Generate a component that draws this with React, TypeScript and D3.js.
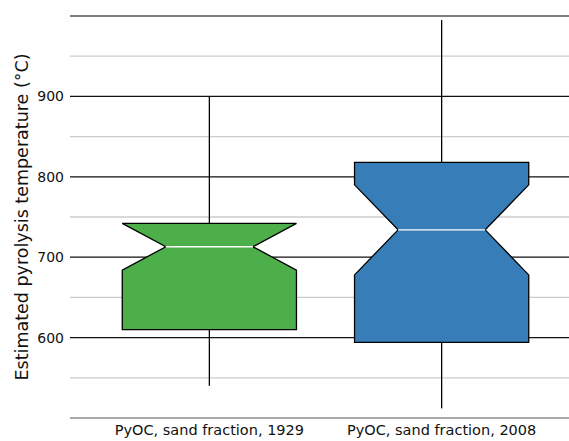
import { useEffect, useRef } from 'react';
import * as d3 from 'd3';

// box statistics (°C)
const categories = ['PyOC, sand fraction, 1929', 'PyOC, sand fraction, 2008'];
const whiskerLow = [540, 512];
const q1 = [610, 594];
const notchLow = [684, 678];
const median = [713, 734];
const notchHigh = [742, 790];
const q3 = [742, 818];
const whiskerHigh = [900, 995];
const colors = ['#4daf4a', '#377eb8'];

const majorTicks = [600, 700, 800, 900];
const minorTicks = [550, 650, 750, 850, 950];

const W = 569;
const H = 441;
const FONT = '"DejaVu Sans", sans-serif';

export default function App() {
  const svgRef = useRef<SVGSVGElement>(null);

  useEffect(() => {
    if (!svgRef.current) return;
    const svg = d3.select(svgRef.current);
    svg.selectAll('*').remove();

    const left = 70;
    const x = d3.scaleLinear().domain([-0.6, 1.6]).range([left, 581]);
    const y = d3.scaleLinear().domain([500, 1000]).range([418, 16]);
    const boxW = (x(1) - x(0)) * 0.75;

    // minor grid
    svg.append('g')
      .selectAll('line')
      .data(minorTicks)
      .enter()
      .append('line')
      .attr('x1', left).attr('x2', W)
      .attr('y1', d => y(d)).attr('y2', d => y(d))
      .attr('stroke', '#cccccc')
      .attr('stroke-width', 1.3);

    // major grid
    svg.append('g')
      .selectAll('line')
      .data(majorTicks)
      .enter()
      .append('line')
      .attr('x1', left).attr('x2', W)
      .attr('y1', d => y(d)).attr('y2', d => y(d))
      .attr('stroke', '#111111')
      .attr('stroke-width', 1.3);

    // frame lines top and bottom
    svg.append('line')
      .attr('x1', left).attr('x2', W)
      .attr('y1', y(1000)).attr('y2', y(1000))
      .attr('stroke', '#555555').attr('stroke-width', 1.3);
    svg.append('line')
      .attr('x1', left).attr('x2', W)
      .attr('y1', y(500)).attr('y2', y(500))
      .attr('stroke', '#aaaaaa').attr('stroke-width', 2);

    // tick labels
    svg.append('g')
      .selectAll('text')
      .data(majorTicks)
      .enter()
      .append('text')
      .attr('x', 64)
      .attr('y', d => y(d))
      .attr('dy', '0.35em')
      .attr('text-anchor', 'end')
      .style('font-family', FONT)
      .style('font-size', '14px')
      .style('fill', '#111')
      .text(d => d);

    categories.forEach((cat, i) => {
      const cx = x(i);
      const l = cx - boxW / 2;
      const r = cx + boxW / 2;
      const nl = cx - boxW / 4;
      const nr = cx + boxW / 4;

      // whiskers
      svg.append('line')
        .attr('x1', cx).attr('x2', cx)
        .attr('y1', y(whiskerHigh[i])).attr('y2', y(q3[i]))
        .attr('stroke', '#000').attr('stroke-width', 1.3);
      svg.append('line')
        .attr('x1', cx).attr('x2', cx)
        .attr('y1', y(q1[i])).attr('y2', y(whiskerLow[i]))
        .attr('stroke', '#000').attr('stroke-width', 1.3);

      const pts: [number, number][] = [
        [l, y(q1[i])],
        [l, y(notchLow[i])],
        [nl, y(median[i])],
        [l, y(notchHigh[i])],
        [l, y(q3[i])],
        [r, y(q3[i])],
        [r, y(notchHigh[i])],
        [nr, y(median[i])],
        [r, y(notchLow[i])],
        [r, y(q1[i])],
      ];
      svg.append('path')
        .attr('d', (d3.line()(pts) ?? '') + 'Z')
        .attr('fill', colors[i])
        .attr('stroke', '#000')
        .attr('stroke-width', 1.3)
        .attr('stroke-linejoin', 'miter');

      svg.append('line')
        .attr('x1', nl).attr('x2', nr)
        .attr('y1', y(median[i])).attr('y2', y(median[i]))
        .attr('stroke', '#fff').attr('stroke-width', 1.3);

      svg.append('text')
        .attr('x', cx)
        .attr('y', 435)
        .attr('text-anchor', 'middle')
        .style('font-family', FONT)
        .style('font-size', '14.5px')
        .style('fill', '#111')
        .text(cat);
    });

    svg.append('text')
      .attr('transform', `translate(28,${(y(1000) + y(500)) / 2}) rotate(-90)`)
      .attr('text-anchor', 'middle')
      .style('font-family', FONT)
      .style('font-size', '17.5px')
      .style('fill', '#111')
      .text('Estimated pyrolysis temperature (°C)');
  }, []);

  return (
    <div style={{ position: 'absolute', left: 0, top: 0 }}>
      <svg ref={svgRef} width={W} height={H} style={{ display: 'block' }}></svg>
    </div>
  );
}
